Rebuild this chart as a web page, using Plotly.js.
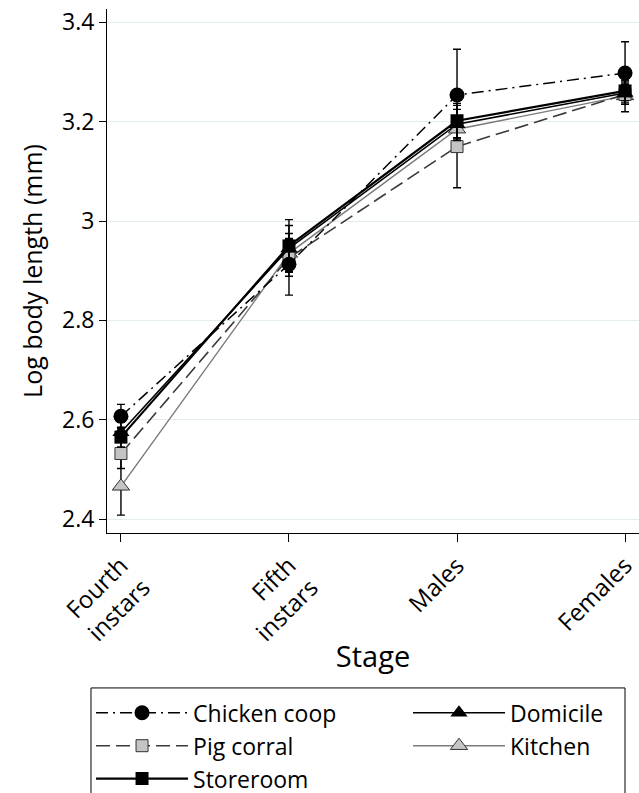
<!DOCTYPE html>
<html>
<head>
<meta charset="utf-8">
<script src="https://cdn.plot.ly/plotly-3.0.1.min.js"></script>
<style>html,body{margin:0;padding:0;background:#fff;}#chart{width:639px;height:793px;}</style>
</head>
<body>
<div id="chart"></div>
<script>
const stages = ["Fourth<br>instars", "Fifth<br>instars", "Males", "Females"];

const chickenCoop    = [2.607, 2.913, 3.254, 3.298];
const chickenCoopErr = [0.024, 0.062, 0.092, 0.063];
const pigCorral      = [2.532, 2.926, 3.150, 3.255];
const pigCorralErr   = [0.030, 0.037, 0.083, 0.020];
const storeroom      = [2.565, 2.950, 3.202, 3.262];
const storeroomErr   = [0.020, 0.053, 0.035, 0.020];
const domicile       = [2.575, 2.945, 3.195, 3.258];
const domicileErr    = [0.020, 0.046, 0.030, 0.020];
const kitchen        = [2.466, 2.935, 3.185, 3.252];
const kitchenErr     = [0.058, 0.030, 0.017, 0.032];

const FONT = "Open Sans, Noto Sans, sans-serif";

function errBar(arr){
  return {type:'data', array:arr, visible:true, color:'#000', thickness:1.4, width:4};
}

const traces = [
  {name:'Kitchen', legend:'legend2', x:stages, y:kitchen, error_y:errBar(kitchenErr), type:'scatter', mode:'lines+markers',
   line:{color:'#7a7a7a', width:1.4},
   marker:{symbol:'triangle-up', size:15, color:'#c4c4c4', line:{color:'#333', width:1}}, legendrank:2},
  {name:'Pig corral', legend:'legend', x:stages, y:pigCorral, error_y:errBar(pigCorralErr), type:'scatter', mode:'lines+markers',
   line:{color:'#3a3a3a', width:1.6, dash:'14px,6px'},
   marker:{symbol:'square', size:12, color:'#c4c4c4', line:{color:'#333', width:1}}, legendrank:2},
  {name:'Domicile', legend:'legend2', x:stages, y:domicile, error_y:errBar(domicileErr), type:'scatter', mode:'lines+markers',
   line:{color:'#000', width:1.6},
   marker:{symbol:'triangle-up', size:15, color:'#000'}, legendrank:1},
  {name:'Storeroom', legend:'legend', x:stages, y:storeroom, error_y:errBar(storeroomErr), type:'scatter', mode:'lines+markers',
   line:{color:'#000', width:2.2},
   marker:{symbol:'square', size:13, color:'#000'}, legendrank:3},
  {name:'Chicken coop', legend:'legend', x:stages, y:chickenCoop, error_y:errBar(chickenCoopErr), type:'scatter', mode:'lines+markers',
   line:{color:'#000', width:1.5, dash:'12px,5px,2px,5px'},
   marker:{symbol:'circle', size:15, color:'#000'}, legendrank:1}
];

const legendBase = {
  orientation:'v', xanchor:'left', yanchor:'top',
  borderwidth:0, bgcolor:'rgba(0,0,0,0)',
  font:{family:FONT, size:23, color:'#000'},
  itemwidth:92, tracegroupgap:0
};

const layout = {
  width:639, height:793,
  margin:{l:107, r:0, t:9, b:260, autoexpand:false},
  paper_bgcolor:'#fff', plot_bgcolor:'#fff',
  font:{family:FONT, color:'#000', size:23},
  showlegend:true,
  legend:Object.assign({}, legendBase, {x:-0.030, y:-0.3022}),
  legend2:Object.assign({}, legendBase, {x:0.5658, y:-0.3022}),
  shapes:[{type:'rect', xref:'paper', yref:'paper', x0:-0.0301, x1:0.9737, y0:-0.2957, y1:-0.60,
           line:{color:'#000', width:1}, fillcolor:'rgba(0,0,0,0)', layer:'above'}],
  xaxis:{
    type:'category', range:[-0.083, 3.083],
    showline:true, linecolor:'#000', linewidth:1,
    ticks:'outside', ticklen:8, tickcolor:'#000', tickwidth:1,
    tickangle:-45, tickfont:{family:FONT, size:24, color:'#000'},
    showgrid:false, zeroline:false, automargin:false,
    title:{text:'Stage', font:{family:FONT, size:29, color:'#000'}, standoff:0}
  },
  yaxis:{
    range:[2.372, 3.427],
    tickvals:[2.4, 2.6, 2.8, 3.0, 3.2, 3.4],
    ticktext:['2.4','2.6','2.8','3','3.2','3.4'],
    showline:true, linecolor:'#000', linewidth:1,
    ticks:'outside', ticklen:7, tickcolor:'#000', tickwidth:1,
    tickfont:{family:FONT, size:23, color:'#000'},
    showgrid:true, gridcolor:'#e3eded', gridwidth:1, zeroline:false, automargin:false,
    title:{text:'Log body length (mm)', font:{family:FONT, size:25, color:'#000'}, standoff:12}
  }
};

Plotly.newPlot('chart', traces, layout, {displayModeBar:false, staticPlot:true});
</script>
</body>
</html>
